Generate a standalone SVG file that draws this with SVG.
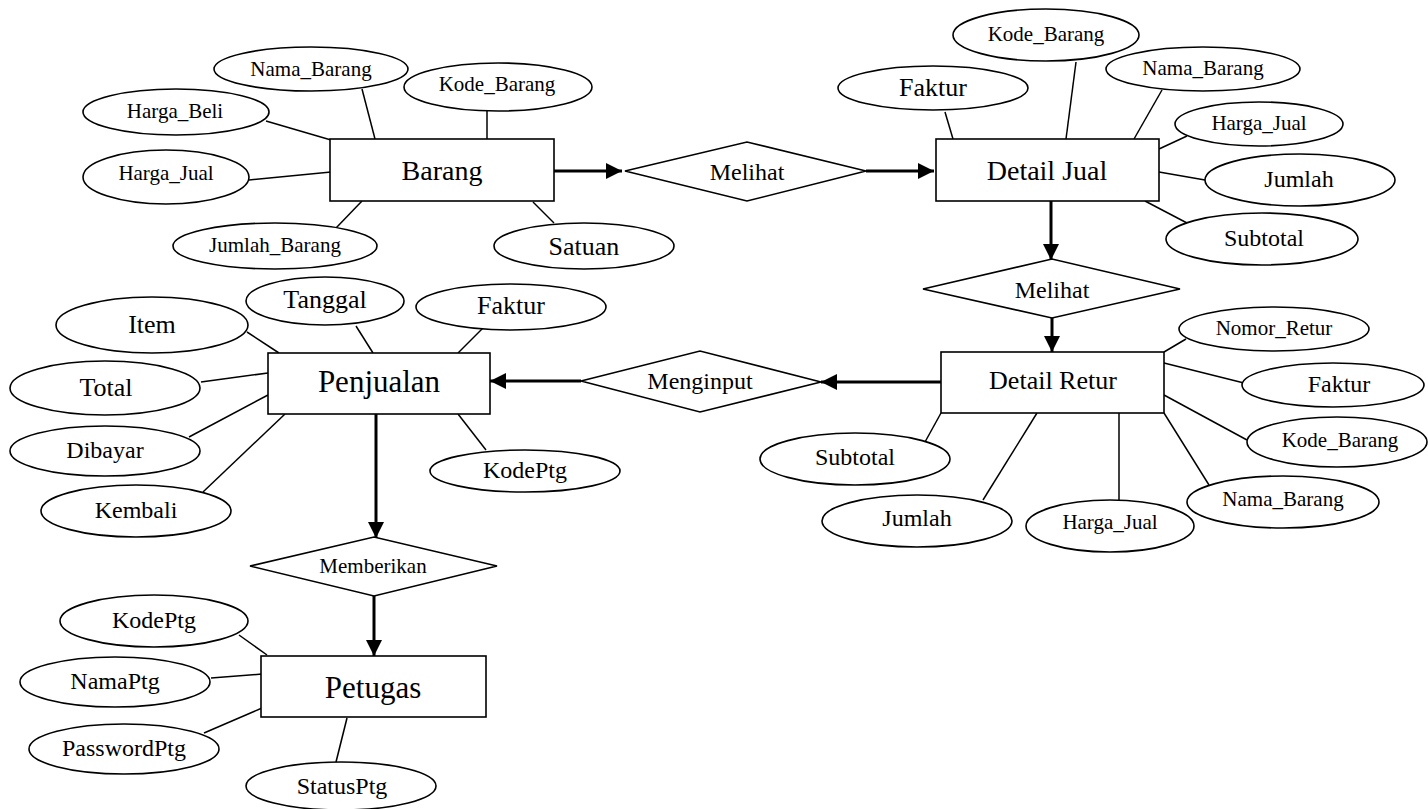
<svg xmlns="http://www.w3.org/2000/svg" width="1428" height="809" viewBox="0 0 1428 809">
<defs>
<style>
.e{fill:#fff;stroke:#000;stroke-width:1.6}
.r{fill:#fff;stroke:#000;stroke-width:1.6}
.d{fill:#fff;stroke:#000;stroke-width:1.6}
.l{stroke:#000;stroke-width:1.5;fill:none}
.a{stroke:#000;stroke-width:3;fill:none;marker-end:url(#ah)}
text{font-family:"Liberation Serif","Times New Roman",serif;fill:#000;text-anchor:middle;dominant-baseline:central}
.s21{font-size:21px}.s24{font-size:24px}.s26{font-size:26px}.s28{font-size:28px}.s31{font-size:31px}
</style>
<marker id="ah" markerUnits="userSpaceOnUse" markerWidth="18" markerHeight="16" refX="16" refY="8" orient="auto">
<path d="M0,0 L16,8 L0,16 Z" fill="#000"/>
</marker>
</defs>
<rect width="1428" height="809" fill="#fff"/>
<g id="connectors">
<line class="l" x1="362" y1="89" x2="375" y2="139"/>
<line class="l" x1="487" y1="111" x2="487" y2="139"/>
<line class="l" x1="266" y1="121" x2="331" y2="140"/>
<line class="l" x1="249" y1="180" x2="331" y2="172"/>
<line class="l" x1="336" y1="228" x2="362" y2="201"/>
<line class="l" x1="533" y1="202" x2="554" y2="223"/>
<line class="l" x1="945" y1="112" x2="953" y2="139"/>
<line class="l" x1="1076" y1="62" x2="1066" y2="139"/>
<line class="l" x1="1162" y1="90" x2="1134" y2="139"/>
<line class="l" x1="1187" y1="136" x2="1159" y2="149"/>
<line class="l" x1="1205" y1="180" x2="1159" y2="172"/>
<line class="l" x1="1187" y1="223" x2="1145" y2="201"/>
<line class="l" x1="247" y1="332" x2="279" y2="353"/>
<line class="l" x1="356" y1="326" x2="373" y2="353"/>
<line class="l" x1="484" y1="327" x2="458" y2="353"/>
<line class="l" x1="201" y1="382" x2="268" y2="373"/>
<line class="l" x1="189" y1="437" x2="268" y2="395"/>
<line class="l" x1="203" y1="492" x2="285" y2="414"/>
<line class="l" x1="486" y1="450" x2="458" y2="414"/>
<line class="l" x1="1164" y1="352" x2="1186" y2="339"/>
<line class="l" x1="1164" y1="363" x2="1244" y2="383"/>
<line class="l" x1="1164" y1="395" x2="1247" y2="440"/>
<line class="l" x1="1164" y1="413" x2="1209" y2="485"/>
<line class="l" x1="1119" y1="413" x2="1119" y2="500"/>
<line class="l" x1="1037" y1="413" x2="983" y2="500"/>
<line class="l" x1="941" y1="413" x2="925" y2="442"/>
<line class="l" x1="239" y1="635" x2="267" y2="655"/>
<line class="l" x1="211" y1="678" x2="262" y2="674"/>
<line class="l" x1="204" y1="733" x2="262" y2="708"/>
<line class="l" x1="336" y1="762" x2="347" y2="718"/>
<line class="a" x1="554" y1="171" x2="622" y2="171"/>
<line class="a" x1="866" y1="171" x2="934" y2="171"/>
<line class="a" x1="1051" y1="201" x2="1051" y2="260"/>
<line class="a" x1="1052" y1="318" x2="1052" y2="352"/>
<line class="a" x1="941" y1="382" x2="821" y2="382"/>
<line class="a" x1="581" y1="381" x2="490" y2="381"/>
<line class="a" x1="376" y1="414" x2="376" y2="538"/>
<line class="a" x1="374" y1="596" x2="374" y2="656"/>
</g>
<g id="barang"><rect class="r" x="330" y="139" width="224" height="62"/><text class="s28" x="442" y="170">Barang</text></g>
<g id="barang-nama"><ellipse class="e" cx="311" cy="69" rx="97" ry="22"/><text class="s21" x="311" y="69">Nama_Barang</text></g>
<g id="barang-kode"><ellipse class="e" cx="498" cy="87" rx="94" ry="24"/><text class="s21" x="497" y="84">Kode_Barang</text></g>
<g id="barang-hargabeli"><ellipse class="e" cx="176" cy="112" rx="93" ry="23"/><text class="s21" x="175" y="111">Harga_Beli</text></g>
<g id="barang-hargajual"><ellipse class="e" cx="166" cy="177" rx="83" ry="27"/><text class="s21" x="166" y="173">Harga_Jual</text></g>
<g id="barang-jumlah"><ellipse class="e" cx="275" cy="246" rx="102" ry="23"/><text class="s21" x="275" y="245">Jumlah_Barang</text></g>
<g id="barang-satuan"><ellipse class="e" cx="584" cy="246" rx="90" ry="23"/><text class="s26" x="584" y="246">Satuan</text></g>
<g id="melihat1"><polygon class="d" points="625,171 747,142 866,171 747,201"/><text class="s24" x="747" y="172">Melihat</text></g>
<g id="detailjual"><rect class="r" x="936" y="139" width="223" height="62"/><text class="s28" x="1047" y="170">Detail Jual</text></g>
<g id="dj-faktur"><ellipse class="e" cx="933" cy="88" rx="95" ry="22"/><text class="s26" x="933" y="87">Faktur</text></g>
<g id="dj-kode"><ellipse class="e" cx="1046" cy="35" rx="93" ry="26"/><text class="s21" x="1046" y="34">Kode_Barang</text></g>
<g id="dj-nama"><ellipse class="e" cx="1203" cy="69" rx="97" ry="22"/><text class="s21" x="1203" y="68">Nama_Barang</text></g>
<g id="dj-hargajual"><ellipse class="e" cx="1259" cy="124" rx="84" ry="22"/><text class="s21" x="1259" y="123">Harga_Jual</text></g>
<g id="dj-jumlah"><ellipse class="e" cx="1300" cy="180" rx="95" ry="26"/><text class="s24" x="1299" y="179">Jumlah</text></g>
<g id="dj-subtotal"><ellipse class="e" cx="1262" cy="239" rx="96" ry="26"/><text class="s24" x="1264" y="238">Subtotal</text></g>
<g id="melihat2"><polygon class="d" points="923,289 1052,259 1180,289 1052,318"/><text class="s24" x="1052" y="290">Melihat</text></g>
<g id="detailretur"><rect class="r" x="941" y="352" width="223" height="61"/><text class="s26" x="1053" y="380">Detail Retur</text></g>
<g id="dr-nomor"><ellipse class="e" cx="1274" cy="329" rx="95" ry="22"/><text class="s21" x="1274" y="328">Nomor_Retur</text></g>
<g id="dr-faktur"><ellipse class="e" cx="1333" cy="385" rx="91" ry="22"/><text class="s24" x="1339" y="384">Faktur</text></g>
<g id="dr-kode"><ellipse class="e" cx="1337" cy="442" rx="90" ry="25"/><text class="s21" x="1340" y="440">Kode_Barang</text></g>
<g id="dr-nama"><ellipse class="e" cx="1283" cy="502" rx="96" ry="26"/><text class="s21" x="1283" y="499">Nama_Barang</text></g>
<g id="dr-hargajual"><ellipse class="e" cx="1110" cy="526" rx="84" ry="26"/><text class="s21" x="1110" y="522">Harga_Jual</text></g>
<g id="dr-jumlah"><ellipse class="e" cx="917" cy="521" rx="95" ry="26"/><text class="s24" x="917" y="518">Jumlah</text></g>
<g id="dr-subtotal"><ellipse class="e" cx="855" cy="459" rx="95" ry="26"/><text class="s24" x="855" y="457">Subtotal</text></g>
<g id="menginput"><polygon class="d" points="581,381 700,351 821,382 700,412"/><text class="s24" x="700" y="381">Menginput</text></g>
<g id="penjualan"><rect class="r" x="268" y="353" width="222" height="61"/><text class="s31" x="379" y="381">Penjualan</text></g>
<g id="pj-tanggal"><ellipse class="e" cx="325" cy="301" rx="79" ry="24"/><text class="s26" x="325" y="299">Tanggal</text></g>
<g id="pj-faktur"><ellipse class="e" cx="511" cy="307" rx="95" ry="23"/><text class="s26" x="511" y="305">Faktur</text></g>
<g id="pj-item"><ellipse class="e" cx="152" cy="325" rx="96" ry="28"/><text class="s26" x="152" y="324">Item</text></g>
<g id="pj-total"><ellipse class="e" cx="105" cy="388" rx="95" ry="27"/><text class="s26" x="106" y="387">Total</text></g>
<g id="pj-dibayar"><ellipse class="e" cx="105" cy="451" rx="95" ry="25"/><text class="s24" x="105" y="450">Dibayar</text></g>
<g id="pj-kembali"><ellipse class="e" cx="136" cy="511" rx="95" ry="26"/><text class="s24" x="136" y="510">Kembali</text></g>
<g id="pj-kodeptg"><ellipse class="e" cx="525" cy="471" rx="95" ry="21"/><text class="s24" x="525" y="470">KodePtg</text></g>
<g id="memberikan"><polygon class="d" points="250,566 374,537 497,566 374,596"/><text class="s21" x="373" y="566">Memberikan</text></g>
<g id="petugas"><rect class="r" x="261" y="656" width="225" height="61"/><text class="s31" x="373" y="687">Petugas</text></g>
<g id="pt-kodeptg"><ellipse class="e" cx="154" cy="621" rx="94" ry="26"/><text class="s24" x="154" y="620">KodePtg</text></g>
<g id="pt-namaptg"><ellipse class="e" cx="115" cy="682" rx="95" ry="25"/><text class="s24" x="115" y="681">NamaPtg</text></g>
<g id="pt-password"><ellipse class="e" cx="124" cy="749" rx="95" ry="25"/><text class="s24" x="124" y="748">PasswordPtg</text></g>
<g id="pt-status"><ellipse class="e" cx="341" cy="786" rx="95" ry="24"/><text class="s24" x="342" y="786">StatusPtg</text></g>
</svg>
